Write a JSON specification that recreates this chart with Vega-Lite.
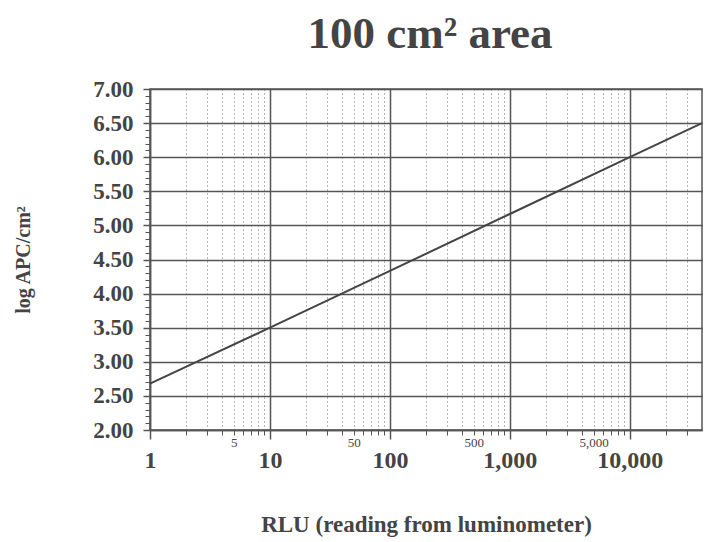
{
  "$schema": "https://vega.github.io/schema/vega-lite/v6.json",
  "width": 552,
  "height": 341,
  "autosize": {"type": "none"},
  "padding": {"left": 150, "top": 89, "right": 2, "bottom": 112},
  "background": "white",
  "title": {"text": "100 cm² area", "font": "Liberation Serif", "fontSize": 45, "fontWeight": "bold", "color": "#444", "anchor": "middle", "offset": 21, "dx": 4},
  "config": {
    "view": {"stroke": "#555", "strokeWidth": 1.5},
    "axis": {"labelFont": "Liberation Serif", "titleFont": "Liberation Serif", "labelColor": "#444", "titleColor": "#444"}
  },
  "data": {"values": [
    {"rlu": 1, "logapc": 2.68},
    {"rlu": 10, "logapc": 3.5},
    {"rlu": 100, "logapc": 4.333},
    {"rlu": 1000, "logapc": 5.167},
    {"rlu": 10000, "logapc": 6.0},
    {"rlu": 40000, "logapc": 6.5}
  ]},
  "layer": [
    {
      "mark": {"type": "line", "opacity": 0},
      "encoding": {
        "x": {"field": "rlu", "type": "quantitative", "scale": {"type": "log", "domain": [1, 40000], "nice": false},
          "axis": {"orient": "bottom", "values": [2,3,4,5,6,7,8,9,20,30,40,50,60,70,80,90,200,300,400,500,600,700,800,900,2000,3000,4000,5000,6000,7000,8000,9000,20000,30000],
            "grid": true, "gridDash": [1, 3], "gridColor": "#666", "gridWidth": 1, "domain": false, "ticks": true, "tickSize": 5, "tickColor": "#555",
            "labelExpr": "indexof([5,50,500,5000], datum.value) >= 0 ? format(datum.value, ',') : ''", "labelFontSize": 13, "labelPadding": 1,
            "labelFlush": false, "labelOverlap": false, "labelBound": false, "title": null}},
        "y": {"field": "logapc", "type": "quantitative", "scale": {"domain": [2, 7], "nice": false, "zero": false},
          "axis": {"orient": "left", "values": [2.1,2.2,2.3,2.4,2.6,2.7,2.8,2.9,3.1,3.2,3.3,3.4,3.6,3.7,3.8,3.9,4.1,4.2,4.3,4.4,4.6,4.7,4.8,4.9,5.1,5.2,5.3,5.4,5.6,5.7,5.8,5.9,6.1,6.2,6.3,6.4,6.6,6.7,6.8,6.9],
            "grid": false, "labels": false, "tickSize": 5, "tickColor": "#555", "domain": false, "title": null}}
      }
    },
    {
      "mark": {"type": "line", "color": "#444", "strokeWidth": 2},
      "encoding": {
        "x": {"field": "rlu", "type": "quantitative", "scale": {"type": "log", "domain": [1, 40000], "nice": false},
          "axis": {"orient": "bottom", "values": [1, 10, 100, 1000, 10000], "format": ",", "grid": true, "gridColor": "#555", "gridWidth": 1.5,
            "domainColor": "#555", "domainWidth": 1.5, "tickSize": 9, "tickColor": "#555", "tickWidth": 1.5,
            "labelFontSize": 24, "labelFontWeight": "bold", "labelPadding": 9, "labelFlush": false, "labelOverlap": false,
            "title": "RLU (reading from luminometer)", "titleFontSize": 23, "titleFontWeight": "bold", "titlePadding": 41}},
        "y": {"field": "logapc", "type": "quantitative", "scale": {"domain": [2, 7], "nice": false, "zero": false},
          "axis": {"orient": "left", "values": [2, 2.5, 3, 3.5, 4, 4.5, 5, 5.5, 6, 6.5, 7], "format": ".2f", "grid": true, "gridColor": "#555", "gridWidth": 1.5,
            "domainColor": "#555", "domainWidth": 1.5, "tickSize": 7, "tickColor": "#555", "tickWidth": 1.5,
            "labelFontSize": 23, "labelFontWeight": "bold", "labelPadding": 10, "labelOverlap": false, "labelFlush": false,
            "title": "log APC/cm²", "titleFontSize": 20, "titleFontWeight": "bold", "titlePadding": 59}}
      }
    }
  ],
  "resolve": {"axis": {"x": "independent", "y": "independent"}}
}
